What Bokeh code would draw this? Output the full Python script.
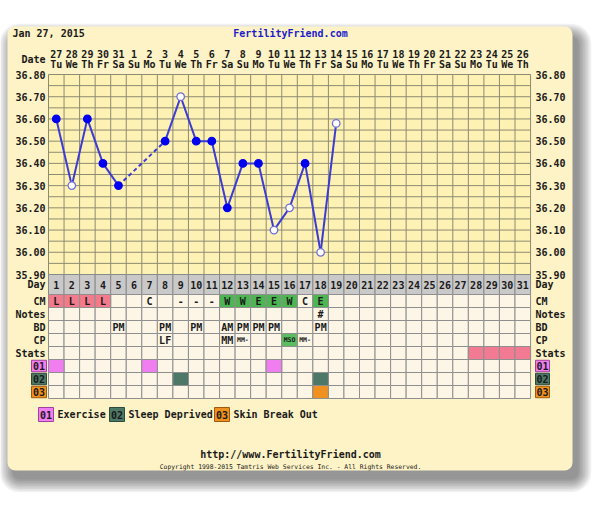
import numpy as np
from bokeh.plotting import figure
from bokeh.models import Range1d, BoxAnnotation, ColumnDataSource
from bokeh.core.properties import value
from bokeh.embed import file_html
from bokeh.resources import INLINE

# ---------------- data ----------------
chart_date = "Jan 27, 2015"
site_title = "FertilityFriend.com"
date_labels = ["27", "28", "29", "30", "31", "1", "2", "3", "4", "5", "6", "7", "8", "9", "10",
               "11", "12", "13", "14", "15", "16", "17", "18", "19", "20", "21", "22", "23",
               "24", "25", "26"]
dow_labels = ["Tu", "We", "Th", "Fr", "Sa", "Su", "Mo", "Tu", "We", "Th", "Fr", "Sa", "Su", "Mo",
              "Tu", "We", "Th", "Fr", "Sa", "Su", "Mo", "Tu", "We", "Th", "Fr", "Sa", "Su", "Mo",
              "Tu", "We", "Th"]
cycle_days = list(range(1, 32))
temp_ticks = [36.80, 36.70, 36.60, 36.50, 36.40, 36.30, 36.20, 36.10, 36.00, 35.90]

temp_days = [1, 2, 3, 4, 5, 8, 9, 10, 11, 12, 13, 14, 15, 16, 17, 18, 19]
temp_values = [36.60, 36.30, 36.60, 36.40, 36.30, 36.50, 36.70, 36.50, 36.50, 36.20,
               36.40, 36.40, 36.10, 36.20, 36.40, 36.00, 36.58]
temp_open = [False, True, False, False, False, False, True, False, False, False,
             False, False, True, True, False, True, True]

row_names = ["CM", "Notes", "BD", "CP", "Stats", "01", "02", "03"]

cm_days = [1, 2, 3, 4, 7, 9, 10, 11, 12, 13, 14, 15, 16, 17, 18]
cm_codes = ["L", "L", "L", "L", "C", "-", "-", "-", "W", "W", "E", "E", "W", "C", "E"]
notes_days = [18]
notes_text = ["#"]
bd_days = [5, 8, 10, 12, 13, 14, 15, 18]
bd_text = ["PM", "PM", "PM", "AM", "PM", "PM", "PM", "PM"]
cp_days = [8, 12, 13, 16, 17]
cp_text = ["LF", "MM", "MM-", "MSO", "MM-"]
stats_days = [28, 29, 30, 31]
custom1_days = [1, 7, 15]
custom2_days = [9, 18]
custom3_days = [18]
legend_codes = ["01", "02", "03"]
legend_names = ["Exercise", "Sleep Deprived", "Skin Break Out"]
footer_url = "http://www.FertilityFriend.com"
copyright_text = "Copyright 1998-2015 Tamtris Web Services Inc. - All Rights Reserved."

# ---------------- styles / layout ----------------
W, H = 600, 509
X0, X1, Y0, Y1 = -8, 592, -8, 501   # local pixel frame (shifted by 8)
FONT = value("DejaVu Sans Mono")
PANEL = "#fdf3c6"
GRIDFILL = "#fdf1b4"
GRIDLINE = "#8e8b72"
CELL = "#fdf6e6"
CELLLINE = "#8f8f8f"
DAYFILL = "#c9c9c9"
PINK = "#f27a8a"
GREEN = "#4db552"
C1 = "#f07ef0"
C2 = "#4d7867"
C3 = "#f0901e"
LINE = "#3c3cd2"
DOT = "#0000f0"

colw = 15.55      # px per day column
gx0 = 40.0        # px of grid left edge
t_top_px, t_bot_px = 66.0, 266.0
tscale = (t_bot_px - t_top_px) / 0.9
row_top_px, rowh = 286.0, 13.0

p = figure(width=W, height=H, x_range=Range1d(X0, X1), y_range=Range1d(Y1, Y0),
           output_backend="svg", toolbar_location=None, min_border=0,
           x_axis_location=None, y_axis_location=None)
p.grid.visible = False
p.outline_line_color = None
p.background_fill_color = "white"
p.border_fill_color = "white"
p.extra_x_ranges = {"day": Range1d(0.5 + (X0 - gx0) / colw, 0.5 + (X1 - gx0) / colw)}
p.extra_y_ranges = {
    "temp": Range1d(36.80 - (Y1 - t_top_px) / tscale, 36.80 - (Y0 - t_top_px) / tscale),
    "row": Range1d((Y1 - row_top_px) / rowh, (Y0 - row_top_px) / rowh),
}

# panel with soft shadow
pl, pr, pt, pb = -1, 564, 18, 462
for i in range(9):
    s = 1.6 * i
    p.add_layout(BoxAnnotation(left=pl + 5 - s, right=pr + 6 + s, top=pt + 10 - s, bottom=pb + 9 + s,
                               fill_color="#000000", fill_alpha=0.055, line_color=None,
                               border_radius=int(8 + s), level="underlay"))
p.add_layout(BoxAnnotation(left=pl, right=pr, top=pt, bottom=pb, fill_color=PANEL, fill_alpha=1,
                           line_color=None, border_radius=8, level="underlay"))

D = dict(x_range_name="day")
TXT = dict(text_font=FONT, text_font_style="bold", text_color="#1a1a1a")

# temperature grid
tmin, tmax = temp_ticks[-1], temp_ticks[0]
p.quad(left=0.5, right=31.5, bottom=tmin, top=tmax, fill_color=GRIDFILL, line_color=None,
       y_range_name="temp", **D)
xs = np.arange(0.5, 32.0, 1.0)
p.segment(x0=xs, x1=xs, y0=tmin, y1=tmax, line_color=GRIDLINE, line_width=1,
          y_range_name="temp", **D)
ys = np.round(np.arange(tmin, tmax + 0.001, 0.05), 2)
p.segment(x0=0.5, x1=31.5, y0=ys, y1=ys, line_color=GRIDLINE, line_width=1,
          y_range_name="temp", **D)

tick_txt = ["%.2f" % t for t in temp_ticks]
p.text(x=37, y=temp_ticks, text=tick_txt, text_align="right", text_baseline="middle",
       text_font_size="10px", y_range_name="temp", **TXT)
p.text(x=527, y=temp_ticks, text=tick_txt, text_align="left", text_baseline="middle",
       text_font_size="10px", y_range_name="temp", **TXT)

# header
p.text(x=[4], y=[25], text=[chart_date], text_align="left", text_baseline="middle",
       text_font_size="10px", **TXT)
p.text(x=[282], y=[25], text=[site_title], text_align="center", text_baseline="middle",
       text_font_size="10px", text_font=FONT, text_font_style="bold", text_color="#1c1ccc")
p.text(x=[37], y=[51], text=["Date"], text_align="right", text_baseline="middle",
       text_font_size="10px", **TXT)
p.text(x=cycle_days, y=45, text=date_labels, text_align="center", text_baseline="middle",
       text_font_size="10px", **TXT, **D)
p.text(x=cycle_days, y=55.5, text=dow_labels, text_align="center", text_baseline="middle",
       text_font_size="10px", **TXT, **D)

# day row
R = dict(y_range_name="row")
day_top = -(row_top_px - t_bot_px) / rowh
days = np.array(cycle_days)
p.quad(left=days - 0.5, right=days + 0.5, top=day_top, bottom=0, fill_color=DAYFILL,
       line_color="#8a8a8a", line_width=1, **D, **R)
p.text(x=cycle_days, y=day_top / 2, text=[str(d) for d in cycle_days], text_align="center",
       text_baseline="middle", text_font_size="10px", **TXT, **D, **R)

# table cells
gd, gr = np.meshgrid(days, np.arange(len(row_names)))
gd, gr = gd.ravel(), gr.ravel()
p.quad(left=gd - 0.5, right=gd + 0.5, top=gr, bottom=gr + 1, fill_color=CELL,
       line_color=CELLLINE, line_width=1, **D, **R)


def colored(days_list, row, color):
    d = np.array(days_list)
    p.quad(left=d - 0.5, right=d + 0.5, top=row, bottom=row + 1, fill_color=color,
           line_color=CELLLINE, line_width=1, **D, **R)


for code, col in [("L", PINK), ("W", GREEN), ("E", GREEN)]:
    sel = [d for d, c in zip(cm_days, cm_codes) if c == code]
    colored(sel, 0, col)
colored(stats_days, 4, "#f27a92")
colored(custom1_days, 5, C1)
colored(custom2_days, 6, C2)
colored(custom3_days, 7, C3)
colored([d for d, t in zip(cp_days, cp_text) if t == "MSO"], 3, "#5cbc60")


def cell_text(days_list, texts, row, size="10px"):
    p.text(x=days_list, y=row + 0.5, text=texts, text_align="center", text_baseline="middle",
           text_font_size=size, **TXT, **D, **R)


cell_text(cm_days, cm_codes, 0)
cell_text(notes_days, notes_text, 1)
cell_text(bd_days, bd_text, 2)
big = [(d, t) for d, t in zip(cp_days, cp_text) if len(t) <= 2]
small = [(d, t) for d, t in zip(cp_days, cp_text) if len(t) > 2]
cell_text([d for d, _ in big], [t for _, t in big], 3)
cell_text([d for d, _ in small], [t for _, t in small], 3, size="6.5px")

# row labels
labels = ["Day"] + row_names[:5]
lab_y = [day_top / 2] + [k + 0.5 for k in range(5)]
p.text(x=37, y=lab_y, text=labels, text_align="right", text_baseline="middle",
       text_font_size="10px", y_range_name="row", **TXT)
p.text(x=527, y=lab_y, text=labels, text_align="left", text_baseline="middle",
       text_font_size="10px", y_range_name="row", **TXT)
ccols = [C1, C2, C3]
cborder = ["#a040a0", "#2d4a3e", "#a05a10"]
for k in range(3):
    r = 5 + k
    for (l, rr) in [(23, 38), (527, 541)]:
        p.quad(left=l, right=rr, top=r + 0.06, bottom=r + 0.94, fill_color=ccols[k],
               line_color=cborder[k], line_width=1, y_range_name="row")
    p.text(x=[30.5, 534], y=r + 0.5, text=[row_names[r]] * 2, text_align="center",
           text_baseline="middle", text_font_size="10px", y_range_name="row", **TXT)

# temperature line
for a in range(len(temp_days) - 1):
    dash = "solid" if temp_days[a + 1] - temp_days[a] == 1 else "4 3"
    p.line(x=temp_days[a:a + 2], y=temp_values[a:a + 2], line_color=LINE, line_width=2,
           line_dash=dash, y_range_name="temp", **D)
src = ColumnDataSource(dict(
    x=temp_days, y=temp_values,
    fill=["white" if o else DOT for o in temp_open],
    edge=["#7070dd" if o else DOT for o in temp_open]))
p.scatter(x="x", y="y", source=src, size=7.5, fill_color="fill", line_color="edge",
          line_width=1.3, y_range_name="temp", **D)

# legend
leg_y = 406
box_l = [30, 101, 206]
for k in range(3):
    p.quad(left=box_l[k], right=box_l[k] + 15, top=leg_y - 7, bottom=leg_y + 7,
           fill_color=ccols[k], line_color=cborder[k], line_width=1)
    p.text(x=[box_l[k] + 7.5], y=[leg_y], text=[legend_codes[k]], text_align="center",
           text_baseline="middle", text_font_size="10px", **TXT)
    p.text(x=[box_l[k] + 19], y=[leg_y], text=[legend_names[k]], text_align="left",
           text_baseline="middle", text_font_size="10px", **TXT)

# footer
p.text(x=[282], y=[446], text=[footer_url], text_align="center", text_baseline="middle",
       text_font_size="10px", **TXT)
p.text(x=[282], y=[458], text=[copyright_text], text_align="center", text_baseline="middle",
       text_font_size="6.4px", text_font=FONT, text_color="#1a1a1a")

open("out.html", "w").write(file_html(p, INLINE))
